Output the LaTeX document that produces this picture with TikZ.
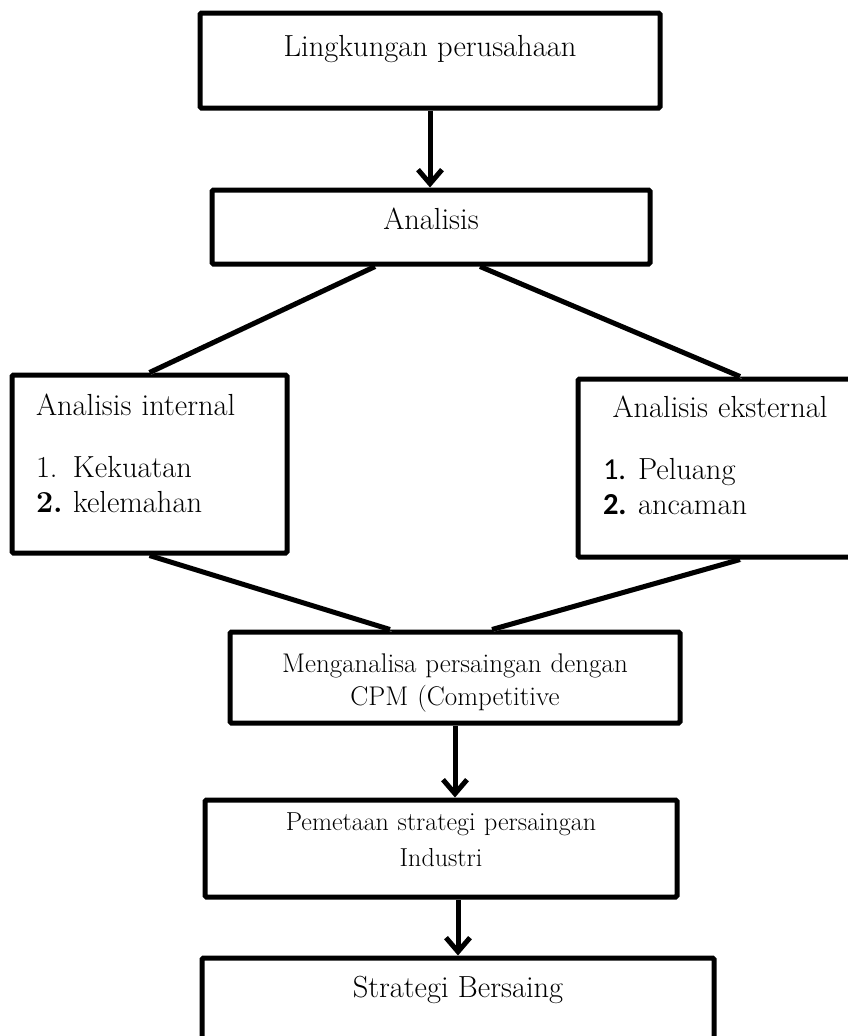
\documentclass[tikz,border=0pt]{standalone}
\usepackage{fontspec}
\newfontfamily\angka{Carlito}
\usetikzlibrary{arrows.meta}

\begin{document}
\begin{tikzpicture}[x=1pt, y=-1pt,
  every node/.style = {shape=rectangle, draw, line width=5pt, rounded corners=1.5pt,
    inner sep=0pt, text height=20pt, font=\fontsize{30.5}{35}\selectfont},
  garis/.style = {line width=5pt, preaction={draw=gray!55, transform canvas={xshift=1.5pt, yshift=-2pt}}},
  panah/.style = {line width=5pt, -{Straight Barb[length=14pt, width=24pt]}}]
  \useasboundingbox (0,0) rectangle (847,1036);
  \node[minimum width=460pt, minimum height=95pt, text depth=29pt] (lingkungan) at (430,60.5) {Lingkungan perusahaan};
  \node[minimum width=438pt, minimum height=74pt, text depth=16pt] (analisis) at (431,227) {Analisis};
  \node[minimum width=275pt, minimum height=178pt, text depth=118pt, text width=227pt, align=left] (internal) at (149.5,464)
    {Analisis internal\\[27pt]
     \makebox[37pt][l]{1.}Kekuatan\\
     \makebox[37pt][l]{\textbf{2.}}kelemahan};
  \node[minimum width=284pt, minimum height=178pt, text depth=122pt, text width=234pt, align=left] (eksternal) at (720,468)
    {\makebox[234pt]{Analisis eksternal}\\[27pt]
     \makebox[35pt][l]{\angka 1.}Peluang\\
     \makebox[35pt][l]{\angka\bfseries 2.}ancaman};
  \node[minimum width=450pt, minimum height=91pt, text depth=31pt, text width=440pt, align=center,
    font=\fontsize{27}{33}\selectfont] (cpm) at (455,677.5)
    {Menganalisa persaingan dengan\\ CPM (Competitive};
  \node[minimum width=472pt, minimum height=97pt, text depth=57pt, text width=460pt, align=center,
    font=\fontsize{26}{36}\selectfont] (pemetaan) at (441,848.5)
    {Pemetaan strategi persaingan\\ Industri};
  \node[minimum width=512pt, minimum height=102pt, text depth=44pt] (strategi) at (458,1009) {Strategi Bersaing};
  % penghubung
  \draw[panah] (lingkungan.south) -- (lingkungan.south |- analisis.north);
  \draw[garis] ([xshift=-56pt]analisis.south) -- (internal.north);
  \draw[garis] ([xshift=49pt]analisis.south) -- ([xshift=20pt]eksternal.north);
  \draw[garis] (internal.south) -- ([xshift=-65pt]cpm.north);
  \draw[garis] ([xshift=20pt]eksternal.south) -- ([xshift=37pt]cpm.north);
  \draw[panah] (cpm.south) -- (cpm.south |- pemetaan.north);
  \draw[panah] (pemetaan.south -| strategi.north) -- (strategi.north);
\end{tikzpicture}
\end{document}
